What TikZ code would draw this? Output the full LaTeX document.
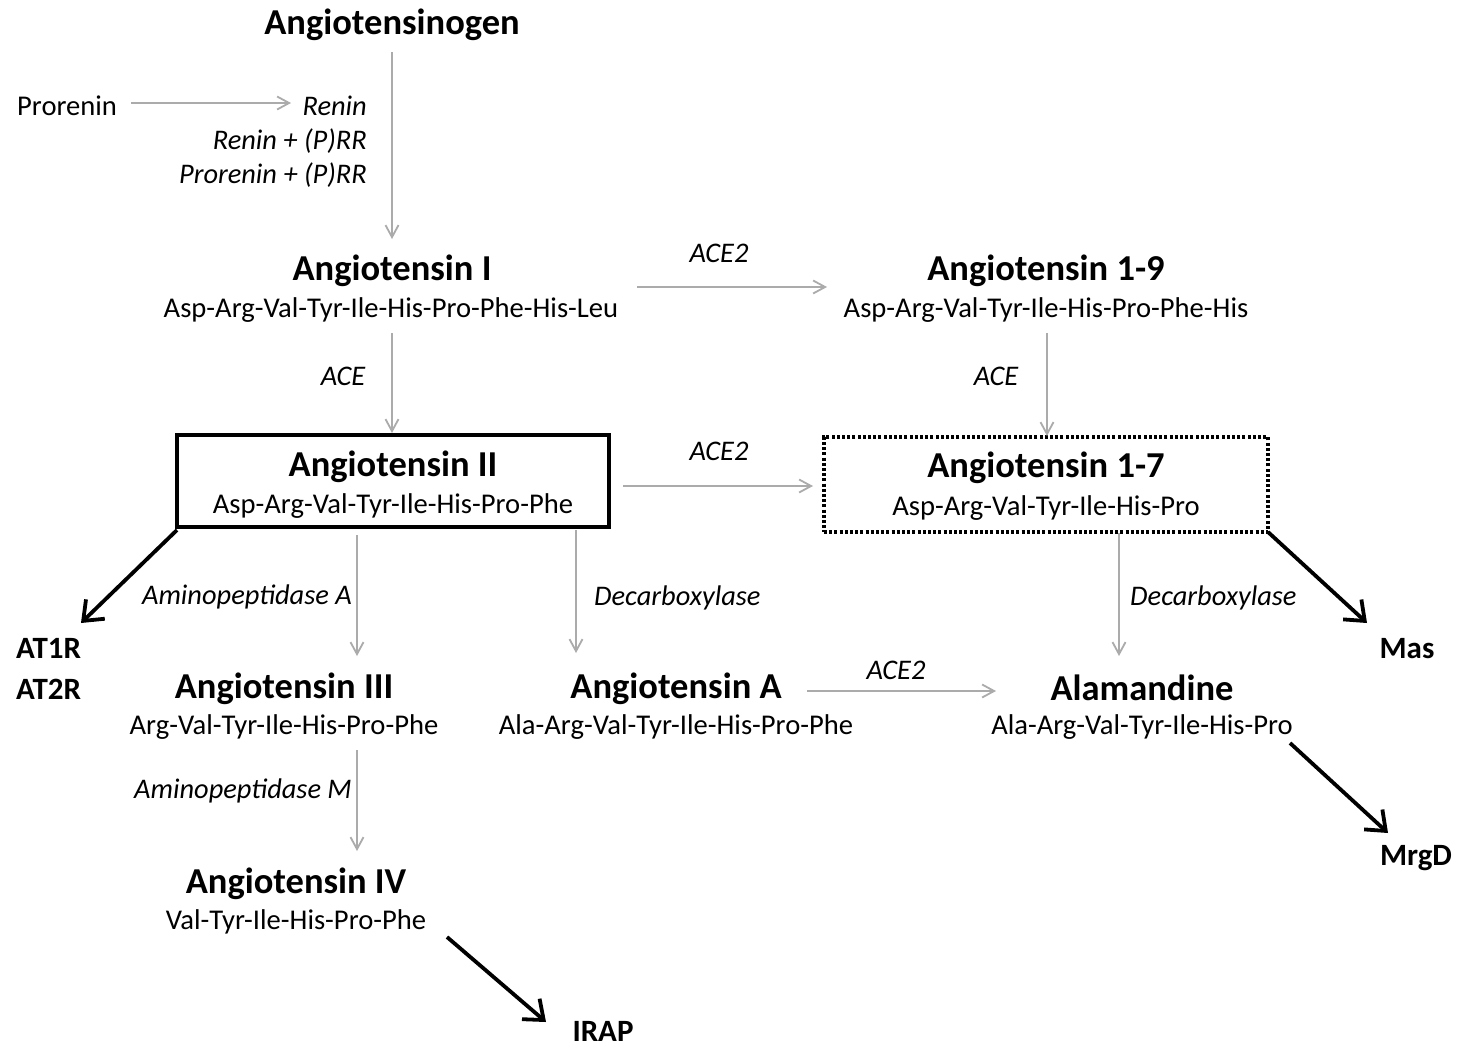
\documentclass[tikz,border=0pt]{standalone}
\usepackage{fontspec}
\setmainfont{Carlito}
\usetikzlibrary{arrows.meta}
\begin{document}
\begin{tikzpicture}[x=1pt,y=-1pt,
  title/.style={font=\fontsize{36.5}{40}\selectfont\bfseries, inner sep=0pt, anchor=center},
  seq/.style={font=\fontsize{28.6}{32}\selectfont, inner sep=0pt, anchor=center},
  enz/.style={font=\fontsize{28.4}{32}\selectfont\itshape, inner sep=0pt},
  rec/.style={font=\fontsize{31}{34}\selectfont\bfseries, inner sep=0pt},
  conv/.style={draw=black!33, line width=1.8pt, -{Straight Barb[length=12pt,width=13pt,line width=1.8pt]}},
  bind/.style={draw=black, line width=3.8pt, -{Straight Barb[length=17pt,width=27pt,line width=3.8pt]}},
  ]
\useasboundingbox (0,0) rectangle (1461,1047);
\fill[white] (0,0) rectangle (1461,1047);

% boxes
\node[draw=black, line width=3.5pt, minimum width=432pt, minimum height=92pt, inner sep=0pt] (box2) at (393,481) {};
\node[draw=black, line width=3.5pt, dash pattern=on 3pt off 2.2pt, minimum width=444pt, minimum height=95pt, inner sep=0pt] (box17) at (1046,484.5) {};

% molecules
\node[title] (agen) at (392,25) {Angiotensinogen};
\node[title] (a1) at (392,271) {Angiotensin I};
\node[seq] (a1s) at (391,310) {Asp-Arg-Val-Tyr-Ile-His-Pro-Phe-His-Leu};
\node[title] (a19) at (1046,271) {Angiotensin 1-9};
\node[seq] (a19s) at (1046,310) {Asp-Arg-Val-Tyr-Ile-His-Pro-Phe-His};
\node[title] (a2) at (393,467) {Angiotensin II};
\node[seq] (a2s) at (393,506) {Asp-Arg-Val-Tyr-Ile-His-Pro-Phe};
\node[title] (a17) at (1046,468) {Angiotensin 1-7};
\node[seq] (a17s) at (1046,508) {Asp-Arg-Val-Tyr-Ile-His-Pro};
\node[title] (a3) at (284,689) {Angiotensin III};
\node[seq] (a3s) at (284,727) {Arg-Val-Tyr-Ile-His-Pro-Phe};
\node[title] (aA) at (676,689) {Angiotensin A};
\node[seq] (aAs) at (676,727) {Ala-Arg-Val-Tyr-Ile-His-Pro-Phe};
\node[title, anchor=base] (ala) at (1142,700) {Alamandine};
\node[seq] (alas) at (1142,727) {Ala-Arg-Val-Tyr-Ile-His-Pro};
\node[title] (a4) at (296,884) {Angiotensin IV};
\node[seq] (a4s) at (296,922) {Val-Tyr-Ile-His-Pro-Phe};

% renin part
\node[seq, anchor=west] (pro) at (17,106) {Prorenin};
\node[enz, anchor=east] (ren) at (367,106) {Renin};
\node[enz, anchor=east] (renp) at (367,141) {Renin + (P)RR};
\node[enz, anchor=east] (prop) at (367,175) {Prorenin + (P)RR};

% enzyme labels
\node[enz] (l1) at (719,253) {ACE2};
\node[enz] (l2) at (343,376) {ACE};
\node[enz] (l3) at (996,376) {ACE};
\node[enz] (l4) at (719,451) {ACE2};
\node[enz, anchor=east] (l5) at (352,597) {Aminopeptidase A};
\node[enz, anchor=west] (l6) at (594,598) {Decarboxylase};
\node[enz, anchor=west] (l7) at (1130,598) {Decarboxylase};
\node[enz] (l8) at (896,670) {ACE2};
\node[enz, anchor=east] (l9) at (352,791) {Aminopeptidase M};

% receptors
\node[rec, anchor=west] (at1) at (16,648) {AT1R};
\node[rec, anchor=west] (at2) at (16,689) {AT2R};
\node[rec] (mas) at (1407,649) {Mas};
\node[rec] (mrgd) at (1416,858) {MrgD};
\node[rec] (irap) at (603,1031) {IRAP};

% connector endpoints
\coordinate (p1) at (392,52);   \coordinate (p2) at (392,239);
\coordinate (p3) at (131,103);  \coordinate (p4) at (291,103);
\coordinate (p5) at (637,287);  \coordinate (p6) at (827,287);
\coordinate (p7) at (392,333);  \coordinate (p8) at (392,433);
\coordinate (p9) at (1047,333); \coordinate (p10) at (1047,436);
\coordinate (p11) at (623,486); \coordinate (p12) at (813,486);
\coordinate (p13) at (357,535); \coordinate (p14) at (357,656);
\coordinate (p15) at (576,530); \coordinate (p16) at (576,653);
\coordinate (p17) at (1119,533);\coordinate (p18) at (1119,656);
\coordinate (p19) at (807,691); \coordinate (p20) at (996,691);
\coordinate (p21) at (357,750); \coordinate (p22) at (357,851);
\coordinate (q1) at (177,530);  \coordinate (q2) at (81,623);
\coordinate (q3) at (1268,532); \coordinate (q4) at (1367,623);
\coordinate (q5) at (1290,743); \coordinate (q6) at (1388,833);
\coordinate (q7) at (447,937);  \coordinate (q8) at (546,1022);

\draw[conv] (p1) -- (p2);
\draw[conv] (p3) -- (p4);
\draw[conv] (p5) -- (p6);
\draw[conv] (p7) -- (p8);
\draw[conv] (p9) -- (p10);
\draw[conv] (p11) -- (p12);
\draw[conv] (p13) -- (p14);
\draw[conv] (p15) -- (p16);
\draw[conv] (p17) -- (p18);
\draw[conv] (p19) -- (p20);
\draw[conv] (p21) -- (p22);

\draw[bind] (q1) -- (q2);
\draw[bind] (q3) -- (q4);
\draw[bind] (q5) -- (q6);
\draw[bind] (q7) -- (q8);
\end{tikzpicture}
\end{document}
